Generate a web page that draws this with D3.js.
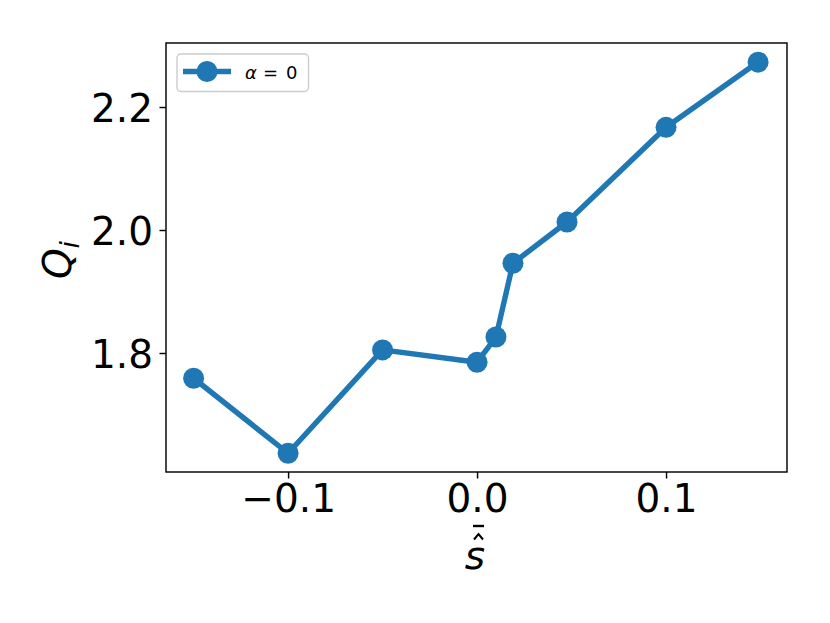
<!DOCTYPE html>
<html><head><meta charset="utf-8">
<script src="https://cdn.jsdelivr.net/npm/d3@7"></script>
<style>body{margin:0;background:#fff}svg{display:block}</style>
</head><body>
<script>
const sHat = [-0.15, -0.10, -0.05, 0.0, 0.01, 0.019, 0.0476, 0.10, 0.1487];
const Q = [1.759, 1.637, 1.805, 1.785, 1.826, 1.946, 2.013, 2.167, 2.273];
const xTicks = [-0.1, 0.0, 0.1];
const yTicks = [1.8, 2.0, 2.2];
const seriesLabel = "α = 0";

const W = 830, H = 623;
const L = 166, R = 787, T = 43, B = 472;
const svg = d3.select("body").append("svg").attr("width", W).attr("height", H);
const x = d3.scaleLinear().domain([-0.1646, 0.1640]).range([L, R]);
const y = d3.scaleLinear().domain([1.6065, 2.3041]).range([B, T]);
const color = "#1f77b4";
const font = "DejaVu Sans";
const fs = 39;

const line = d3.line().x((d,i)=>x(sHat[i])).y(d=>y(d));
svg.append("path").datum(Q).attr("d", line).attr("fill","none")
  .attr("stroke", color).attr("stroke-width", 5.4).attr("stroke-linejoin","round").attr("stroke-linecap","square");
svg.selectAll("circle.pt").data(Q).enter().append("circle").attr("class","pt")
  .attr("cx",(d,i)=>x(sHat[i])).attr("cy",d=>y(d)).attr("r",10.5).attr("fill",color);

// axes
const xAxis = d3.axisBottom(x).tickValues(xTicks).tickSize(6.5).tickPadding(6.5)
  .tickFormat(d=>d3.format(".1f")(d).replace("-","−"));
const gx = svg.append("g").attr("transform",`translate(0,${B})`).call(xAxis);
const yAxis = d3.axisLeft(y).tickValues(yTicks).tickSize(6.5).tickPadding(6.5).tickFormat(d3.format(".1f"));
const gy = svg.append("g").attr("transform",`translate(${L},0)`).call(yAxis);
[gx, gy].forEach(g=>{
  g.select(".domain").remove();
  g.selectAll(".tick line").attr("stroke","#000").attr("stroke-width",1.44);
  g.selectAll(".tick text").attr("fill","#000").style("font-family",font).style("font-size",fs+"px");
});
gx.selectAll(".tick text").attr("dy","0.7em");
gy.selectAll(".tick text").attr("dy","0.36em");

svg.append("rect").attr("x",L).attr("y",T).attr("width",R-L).attr("height",B-T)
  .attr("fill","none").attr("stroke","#000").attr("stroke-width",1.44);

// x label: s with hat and bar
const xl = svg.append("g");
xl.append("text").attr("x",475).attr("y",569).attr("text-anchor","middle")
  .style("font-family",font).style("font-size",fs+"px").style("font-style","italic").text("s");
xl.append("path").attr("d","M474,539.5 L478.5,534 L483,539.5").attr("fill","none").attr("stroke","#000").attr("stroke-width",2);
xl.append("line").attr("x1",473).attr("x2",484).attr("y1",526).attr("y2",526).attr("stroke","#000").attr("stroke-width",2.4);

// y label
const yl = svg.append("text").attr("transform","translate(71,260) rotate(-90)").attr("text-anchor","middle")
  .style("font-family",font).style("font-size",fs+"px");
yl.append("tspan").style("font-style","italic").text("Q");
yl.append("tspan").style("font-style","italic").style("font-size","27px").attr("dy","8").text("i");

// legend
const lg = svg.append("g");
lg.append("rect").attr("x",177).attr("y",54).attr("width",131.5).attr("height",37.5).attr("rx",4)
  .attr("fill","#fff").attr("fill-opacity",0.8).attr("stroke","#ccc").attr("stroke-width",1.4);
lg.append("line").attr("x1",183).attr("x2",231).attr("y1",71.5).attr("y2",71.5).attr("stroke",color).attr("stroke-width",5.4);
lg.append("circle").attr("cx",207).attr("cy",71.5).attr("r",10.5).attr("fill",color);
const lt = lg.append("text").attr("y",78.5).style("font-family",font).style("font-size","18px");
lt.append("tspan").attr("x",245).style("font-style","italic").text(seriesLabel.split(" ")[0]);
lt.append("tspan").attr("x",263).text("=");
lt.append("tspan").attr("x",286).text("0");
</script>
</body></html>
